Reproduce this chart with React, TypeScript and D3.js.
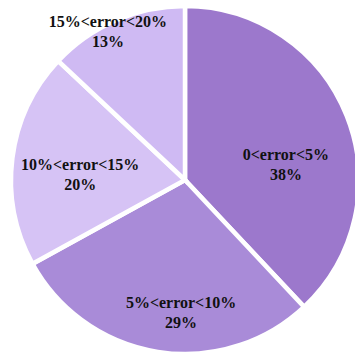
import React from "react";
import * as d3 from "d3";

const categories = ["0<error<5%", "5%<error<10%", "10%<error<15%", "15%<error<20%"];
const values = [38, 29, 20, 13];
const colors = ["#9c78cc", "#a98bd8", "#d6c3f5", "#cfbaf3"];

// label placement: [angle in degrees clockwise from top, distance from centre]
const labelPlacement: [number, number][] = [
  [81.5, 102],
  [181.7, 133],
  [273, 105],
  [332.5, 167],
];

const W = 355;
const H = 355;
const cx = 185;
const cy = 180;
const R = 174;

export default function App() {
  const pie = d3.pie<number>().sort(null).value((d) => d);
  const arcs = pie(values);
  const arc = d3.arc<d3.PieArcDatum<number>>().innerRadius(0).outerRadius(R);
  return (
    <svg
      width={W}
      height={H}
      style={{ position: "absolute", left: 0, top: 0, background: "#fff" }}
    >
      <g transform={`translate(${cx},${cy})`}>
        {arcs.map((a, i) => (
          <path key={i} d={arc(a) || ""} fill={colors[i]} stroke="#fff" strokeWidth={4.5} strokeLinejoin="miter" />
        ))}
        {arcs.map((a, i) => {
          const [ang, dist] = labelPlacement[i];
          const rad = (ang * Math.PI) / 180;
          const x = Math.sin(rad) * dist;
          const y = -Math.cos(rad) * dist;
          return (
            <text
              key={"t" + i}
              x={x}
              y={y}
              textAnchor="middle"
              style={{ fontFamily: "'Times New Roman', Times, serif", fontWeight: 700, fontSize: "16px" }}
              fill="#111"
            >
              <tspan x={x} dy={-5}>{categories[i]}</tspan>
              <tspan x={x} dy={20}>{`${values[i]}%`}</tspan>
            </text>
          );
        })}
      </g>
    </svg>
  );
}
